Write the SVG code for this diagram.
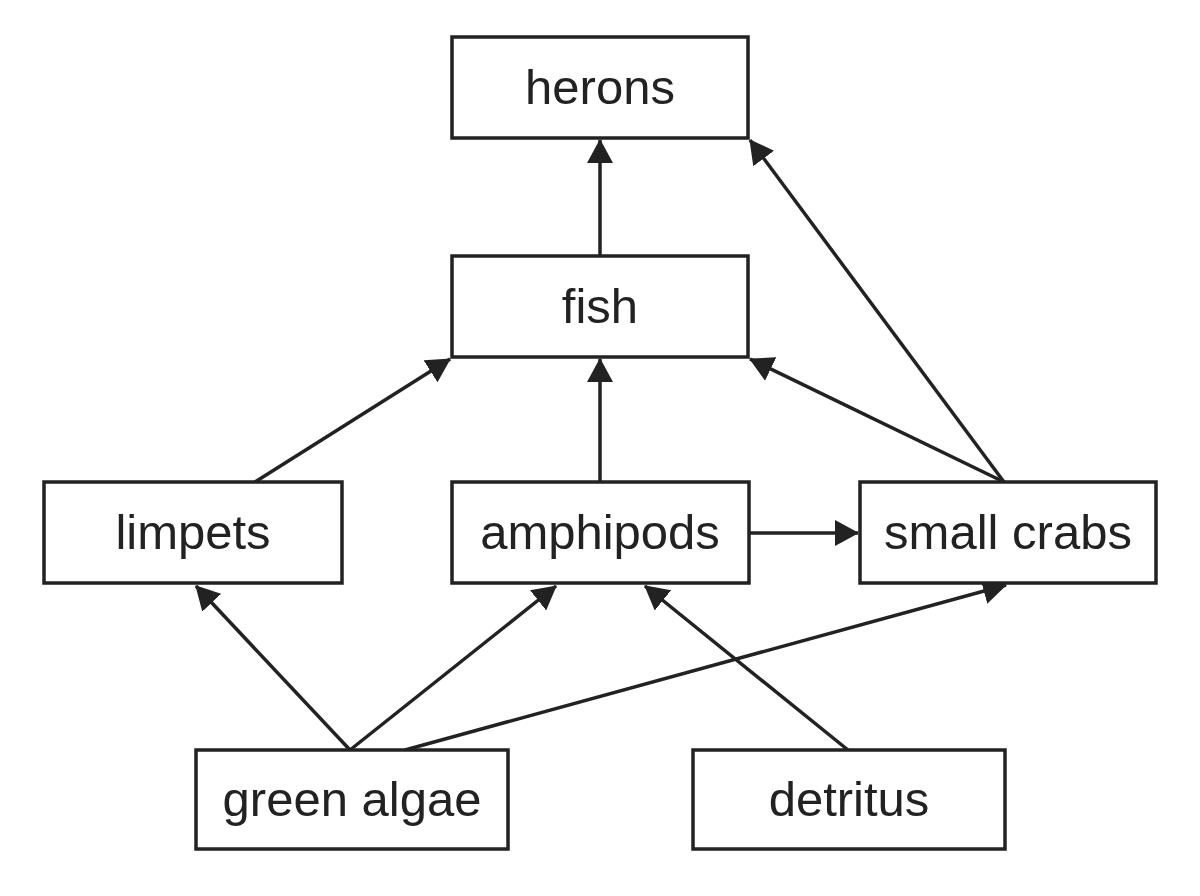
<svg xmlns="http://www.w3.org/2000/svg" width="1200" height="896" viewBox="0 0 1200 896">
<style>
.box{fill:#fff;stroke:#222;stroke-width:3.5}
.lbl{font-family:"Liberation Sans",Arial,sans-serif;font-size:49px;fill:#222;text-anchor:middle}
.edge{stroke:#222;stroke-width:3.5;fill:none;marker-end:url(#ah)}
</style>
<defs>
<marker id="ah" viewBox="0 0 24 26" refX="23" refY="13" markerWidth="24" markerHeight="26" markerUnits="userSpaceOnUse" orient="auto">
<path d="M0,0 L24,13 L0,26 Z" fill="#222"/>
</marker>
</defs>
<rect width="1200" height="896" fill="#fff"/>
<g id="connectors">
<line class="edge" x1="600" y1="256" x2="600" y2="140"/>
<line class="edge" x1="1004" y1="482" x2="750" y2="140"/>
<line class="edge" x1="255" y1="482" x2="450" y2="359"/>
<line class="edge" x1="600" y1="482" x2="600" y2="359"/>
<line class="edge" x1="1004" y1="482" x2="750" y2="359"/>
<line class="edge" x1="749" y1="533" x2="858" y2="533"/>
<line class="edge" x1="350" y1="750" x2="196" y2="586"/>
<line class="edge" x1="350" y1="750" x2="556" y2="586"/>
<line class="edge" x1="405" y1="750" x2="1006" y2="585"/>
<line class="edge" x1="848" y1="750" x2="645" y2="586"/>
</g>
<g id="herons"><rect class="box" x="452" y="37" width="296" height="101"/><text class="lbl" x="600" y="104">herons</text></g>
<g id="fish"><rect class="box" x="452" y="256" width="296" height="101"/><text class="lbl" x="600" y="323">fish</text></g>
<g id="limpets"><rect class="box" x="44" y="482" width="298" height="101"/><text class="lbl" x="193" y="549">limpets</text></g>
<g id="amphipods"><rect class="box" x="452" y="482" width="297" height="101"/><text class="lbl" x="600" y="549">amphipods</text></g>
<g id="small_crabs"><rect class="box" x="860" y="482" width="296" height="101"/><text class="lbl" x="1008" y="549">small crabs</text></g>
<g id="green_algae"><rect class="box" x="196" y="750" width="312" height="99"/><text class="lbl" x="352" y="816">green algae</text></g>
<g id="detritus"><rect class="box" x="693" y="750" width="312" height="99"/><text class="lbl" x="849" y="816">detritus</text></g>
</svg>
